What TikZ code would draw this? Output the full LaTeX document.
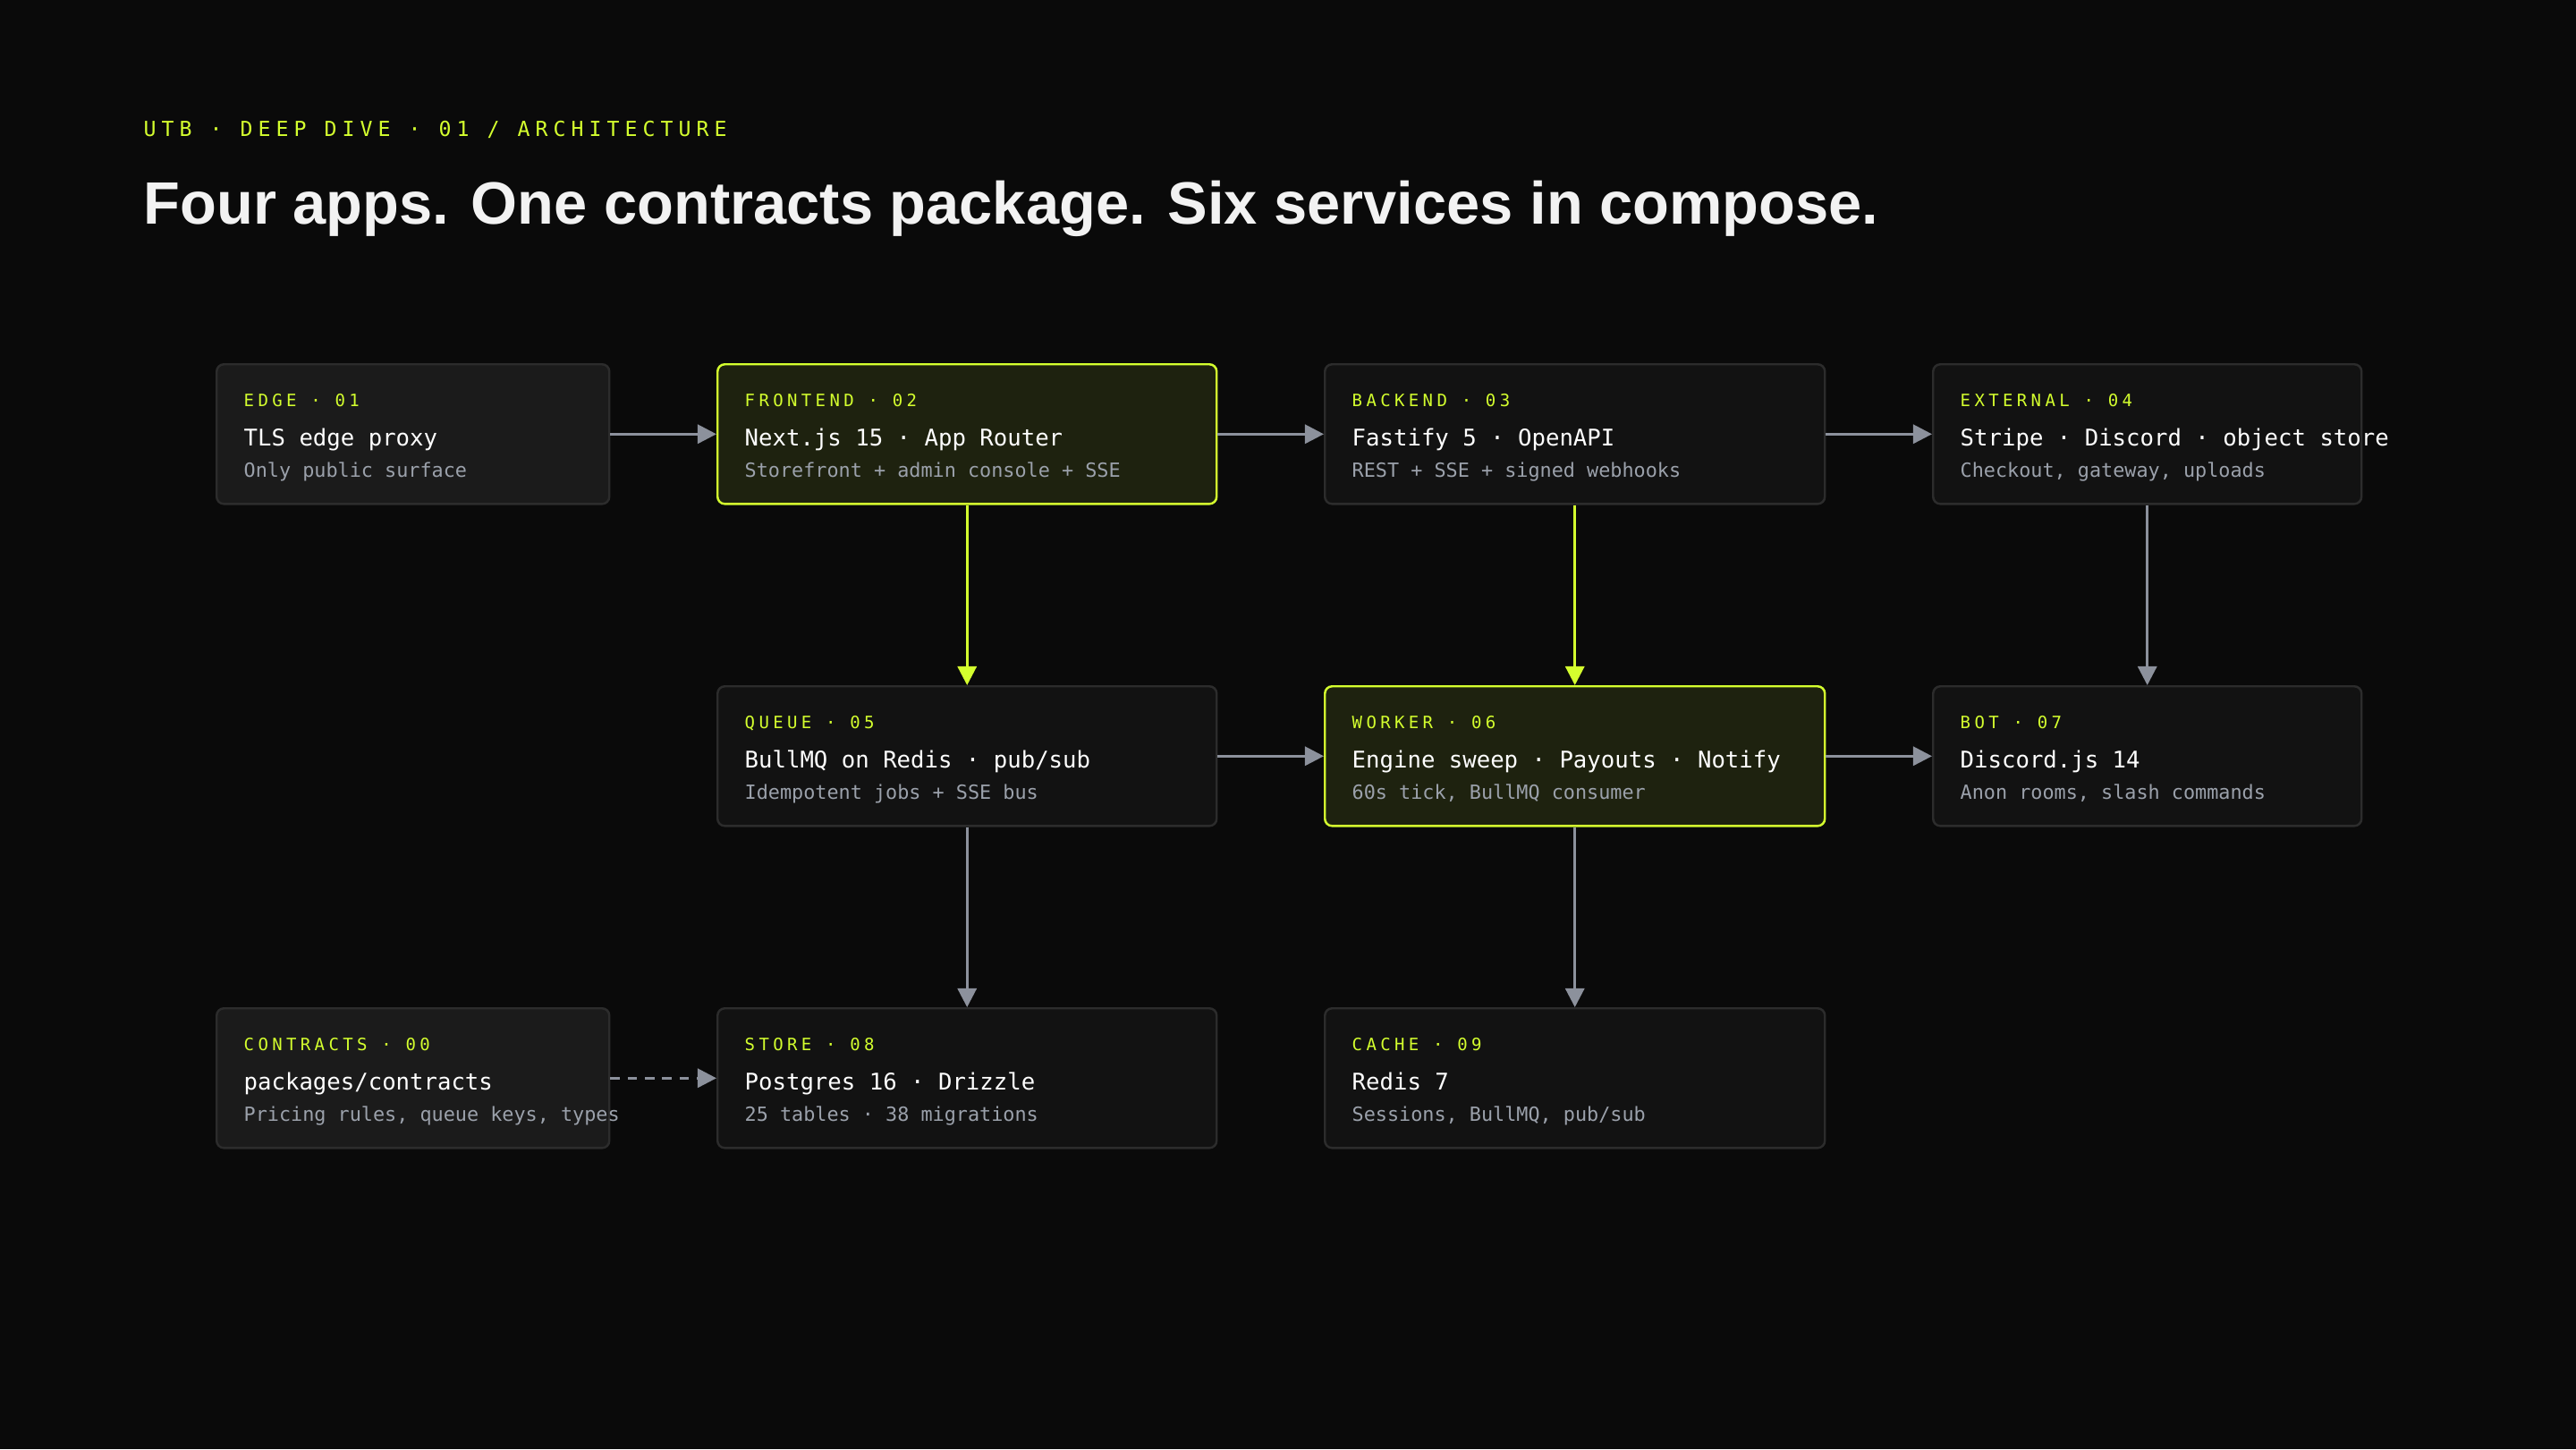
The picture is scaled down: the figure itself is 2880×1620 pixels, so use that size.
\documentclass[tikz,border=0pt]{standalone}
\usepackage{fontspec}
\setmainfont{Liberation Sans}
\newfontfamily\monofont{DejaVu Sans Mono}
\newfontfamily\monols[LetterSpace=26]{DejaVu Sans Mono}
\newfontfamily\monolab[LetterSpace=23]{DejaVu Sans Mono}
\usetikzlibrary{arrows.meta}
\definecolor{bgc}{HTML}{0A0A0A}
\definecolor{lime}{HTML}{D4FF2E}
\definecolor{boxfill}{HTML}{121212}
\definecolor{boxfillb}{HTML}{1B1B1B}
\definecolor{boxline}{HTML}{2C2C2C}
\definecolor{hifill}{HTML}{1E220F}
\definecolor{grayarrow}{HTML}{8C919C}
\definecolor{subtext}{HTML}{9BA1AB}
\tikzset{
 box/.style={draw=boxline,line width=0.7pt,fill=boxfill,rounded corners=2.3pt,anchor=north west,inner sep=0},
 boxb/.style={box,fill=boxfillb},
 hibox/.style={box,draw=lime,fill=hifill},
 lab/.style={anchor=base west,inner sep=0,text=lime,font=\monolab\fontsize{5.4pt}{6pt}\selectfont},
 ttl/.style={anchor=base west,inner sep=0,text=white,font=\monofont\fontsize{7.3pt}{8pt}\selectfont},
 sub/.style={anchor=base west,inner sep=0,text=subtext,font=\monofont\fontsize{6.2pt}{7pt}\selectfont},
 conn/.style={draw=grayarrow,line width=0.9pt,-{Triangle[length=6pt,width=6pt]}},
 hiconn/.style={conn,draw=lime,fill=lime},
}
\newcommand{\mkbox}[8]{%
 \node[#8,minimum width=#4*0.01cm,minimum height=1.56cm] (#1) at (#2,#3) {};
 \node[lab] (#1l) at ([xshift=0.31cm,yshift=-0.48cm]#1.north west) {#5};
 \node[ttl] (#1t) at ([xshift=0.31cm,yshift=-0.92cm]#1.north west) {#6};
 \node[sub] (#1s) at ([xshift=0.31cm,yshift=-1.27cm]#1.north west) {#7};
}
\begin{document}
\begin{tikzpicture}[x=0.01cm,y=-0.01cm]
\fill[bgc] (0,0) rectangle (2880,1620);
\useasboundingbox (0,0) rectangle (2880,1620);
\node[anchor=base west,inner sep=0,text=lime,font=\monols\fontsize{6.6pt}{7pt}\selectfont] (kick) at (160,152) {UTB · DEEP DIVE · 01 / ARCHITECTURE};
\node[anchor=base west,inner sep=0,text=white!95!black,font=\bfseries\fontsize{19pt}{23pt}\selectfont] (head) at (160,250) {Four apps. One contracts package. Six services in compose.};
\mkbox{a1}{241}{406}{439}{EDGE · 01}{TLS edge proxy}{Only public surface}{boxb}
\mkbox{b1}{801}{406}{558}{FRONTEND · 02}{Next.js 15 · App Router}{Storefront + admin console + SSE}{hibox}
\mkbox{c1}{1480}{406}{559}{BACKEND · 03}{Fastify 5 · OpenAPI}{REST + SSE + signed webhooks}{box}
\mkbox{d1}{2160}{406}{479}{EXTERNAL · 04}{Stripe · Discord · object store}{Checkout, gateway, uploads}{box}
\mkbox{b2}{801}{766}{558}{QUEUE · 05}{BullMQ on Redis · pub/sub}{Idempotent jobs + SSE bus}{box}
\mkbox{c2}{1480}{766}{559}{WORKER · 06}{Engine sweep · Payouts · Notify}{60s tick, BullMQ consumer}{hibox}
\mkbox{d2}{2160}{766}{479}{BOT · 07}{Discord.js 14}{Anon rooms, slash commands}{box}
\mkbox{a3}{241}{1126}{439}{CONTRACTS · 00}{packages/contracts}{Pricing rules, queue keys, types}{boxb}
\mkbox{b3}{801}{1126}{558}{STORE · 08}{Postgres 16 · Drizzle}{25 tables · 38 migrations}{box}
\mkbox{c3}{1480}{1126}{559}{CACHE · 09}{Redis 7}{Sessions, BullMQ, pub/sub}{box}
\draw[conn] (a1.east) -- (b1.west);
\draw[conn] (b1.east) -- (c1.west);
\draw[conn] (c1.east) -- (d1.west);
\draw[conn] (b2.east) -- (c2.west);
\draw[conn] (c2.east) -- (d2.west);
\draw[hiconn] (b1.south) -- (b2.north);
\draw[hiconn] (c1.south) -- (c2.north);
\draw[conn] (d1.south) -- (d2.north);
\draw[conn] (b2.south) -- (b3.north);
\draw[conn] (c2.south) -- (c3.north);
\draw[conn,dashed,dash pattern=on 3pt off 2.5pt] (a3.east) -- (b3.west);
\end{tikzpicture}
\end{document}
